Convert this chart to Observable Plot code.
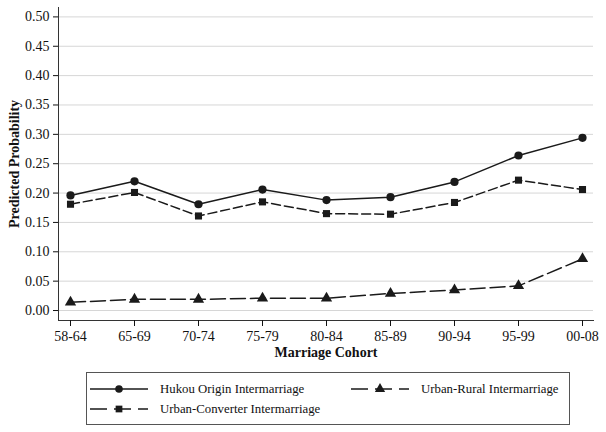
<!DOCTYPE html>
<html>
<head>
<meta charset="utf-8">
<script src="https://cdn.jsdelivr.net/npm/d3@7"></script>
<script src="https://cdn.jsdelivr.net/npm/@observablehq/plot@0.6"></script>
<style>
  body { margin: 0; background: #fff; font-family: "Liberation Serif", "Times New Roman", serif; }
  #wrap { position: relative; width: 606px; height: 432px; }
  #legend { position: absolute; left: 86px; top: 372px; width: 484px; height: 53px; border: 1px solid #555; box-sizing: border-box; font-size: 12.8px; color: #111; }
  .item { position: absolute; display: flex; align-items: center; height: 16px; }
  .item svg { margin-right: 11px; }
</style>
</head>
<body>
<div id="wrap">
  <div id="chart"></div>
  <div id="legend"></div>
</div>
<script>
const cohorts = ["58-64","65-69","70-74","75-79","80-84","85-89","90-94","95-99","00-08"];
const hukou = [0.196,0.220,0.181,0.206,0.188,0.193,0.219,0.264,0.294];
const converter = [0.181,0.201,0.161,0.185,0.165,0.164,0.184,0.222,0.206];
const rural = [0.014,0.019,0.019,0.021,0.021,0.029,0.035,0.042,0.088];
const seriesNames = ["Hukou Origin Intermarriage","Urban-Converter Intermarriage","Urban-Rural Intermarriage"];
const yTicks = [0,0.05,0.10,0.15,0.20,0.25,0.30,0.35,0.40,0.45,0.50];

const styles = [
  {symbol: "circle", dash: null, r: 4.1},
  {symbol: "square", dash: "9,4", r: 4.0},
  {symbol: "triangle", dash: "15,5", r: 4.2}
];
const values = [hukou, converter, rural];
const rows = [];
values.forEach((arr, s) => arr.forEach((v, i) => rows.push({cohort: cohorts[i], value: v, series: seriesNames[s]})));

const marks = [
  Plot.gridY(yTicks, {stroke: "#d6d6d6", strokeOpacity: 1, strokeWidth: 1}),
  Plot.frame({anchor: "left", stroke: "#333", strokeWidth: 1}),
  Plot.frame({anchor: "bottom", stroke: "#333", strokeWidth: 1}),
  Plot.axisY(yTicks, {tickFormat: d3.format(".2f"), tickSize: 5, tickPadding: 4, fontSize: 14, label: "Predicted Probability", labelAnchor: "center", labelOffset: 49, labelArrow: false}),
  Plot.axisX({tickSize: 6, tickPadding: 5, fontSize: 14, label: "Marriage Cohort", labelAnchor: "center", labelOffset: 36, labelArrow: false})
];
seriesNames.forEach((name, s) => {
  const data = rows.filter(d => d.series === name);
  marks.push(Plot.line(data, {x: "cohort", y: "value", stroke: "#1a1a1a", strokeWidth: 1.5, strokeDasharray: styles[s].dash}));
  marks.push(Plot.dot(data, {x: "cohort", y: "value", symbol: styles[s].symbol, r: styles[s].r, fill: "#1a1a1a", stroke: "none"}));
});

const chart = Plot.plot({
  width: 606,
  height: 362,
  marginLeft: 58,
  marginRight: 13,
  marginTop: 7,
  marginBottom: 42,
  style: {fontFamily: "Liberation Serif, Times New Roman, serif", fontSize: "13px", color: "#111", background: "#fff"},
  x: {type: "point", domain: cohorts, padding: 0.155},
  y: {domain: [-0.017, 0.516]},
  marks
});
d3.select(chart).selectAll('[aria-label="x-axis label"] text, [aria-label="y-axis label"] text')
  .attr("font-weight", "bold").attr("font-size", 14);
document.getElementById("chart").appendChild(chart);

// legend
const legend = document.getElementById("legend");
const pos = [{left: 2, top: 8}, {left: 263, top: 8}, {left: 2, top: 28}];
const order = [0, 2, 1];
order.forEach((s, k) => {
  const name = seriesNames[s];
  const item = document.createElement("div");
  item.className = "item";
  item.style.left = pos[k].left + "px";
  item.style.top = pos[k].top + "px";
  const svg = d3.create("svg").attr("width", 60).attr("height", 16);
  svg.append("line").attr("x1", 1).attr("x2", 59).attr("y1", 8).attr("y2", 8)
    .attr("stroke", "#1a1a1a").attr("stroke-width", 1.5)
    .attr("stroke-dasharray", s === 0 ? null : "17,7");
  const sym = {circle: d3.symbolCircle, square: d3.symbolSquare, triangle: d3.symbolTriangle}[styles[s].symbol];
  svg.append("path").attr("transform", "translate(30,8)")
    .attr("d", d3.symbol(sym, Math.PI * 3.8 * 3.8)()).attr("fill", "#1a1a1a");
  item.appendChild(svg.node());
  const span = document.createElement("span");
  span.textContent = name;
  item.appendChild(span);
  legend.appendChild(item);
});
</script>
</body>
</html>
